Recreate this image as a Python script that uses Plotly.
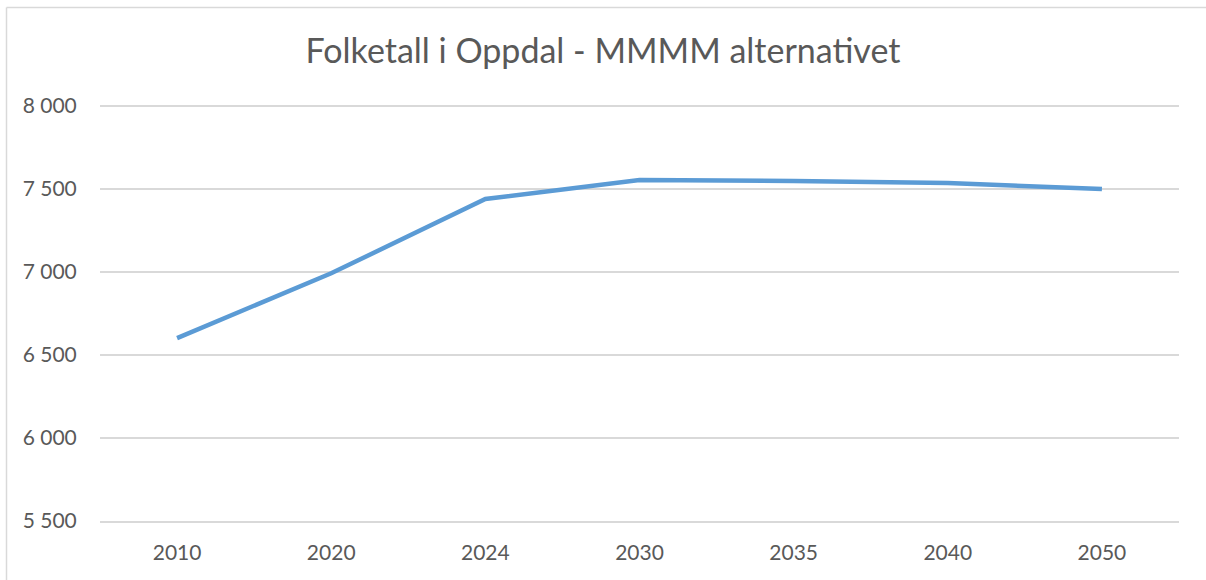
import plotly.graph_objects as go

years = ["2010", "2020", "2024", "2030", "2035", "2040", "2050"]
population = [6602, 6992, 7440, 7554, 7548, 7536, 7500]
y_ticks = [5500, 6000, 6500, 7000, 7500, 8000]
y_tick_labels = ["5 500", "6 000", "6 500", "7 000", "7 500", "8 000"]
title_text = "Folketall i Oppdal - MMMM alternativet"

W, H = 1206, 580
L, R, T, B = 100, 27, 104, 59
pw, ph = W - L - R, H - T - B

fig = go.Figure()
fig.add_trace(go.Scatter(
    x=years, y=population, mode="lines",
    line=dict(color="#5B9BD5", width=4.5),
    hoverinfo="x+y", showlegend=False,
))

border_color = "#d9d9d9"
# frame (left and top edges visible)
fig.add_shape(type="line", xref="paper", yref="paper",
              x0=(6.5 - L) / pw, x1=(6.5 - L) / pw,
              y0=(H - B - 7.5) / ph, y1=-0.3,
              line=dict(color=border_color, width=1.5))
fig.add_shape(type="line", xref="paper", yref="paper",
              x0=(6.5 - L) / pw, x1=1.2,
              y0=(H - B - 7.5) / ph, y1=(H - B - 7.5) / ph,
              line=dict(color=border_color, width=1.5))

fig.update_layout(
    width=W, height=H,
    margin=dict(l=L, r=R, t=T, b=B, pad=0, autoexpand=False),
    paper_bgcolor="white", plot_bgcolor="white",
    font=dict(family="Lato, Open Sans, sans-serif", color="#595959"),
    title=dict(text=title_text, x=0.5, xref="container", xanchor="center",
               y=1 - 51 / H, yref="container", yanchor="middle", automargin=False,
               font=dict(size=34, color="#595959", family="Lato, Open Sans, sans-serif")),
    xaxis=dict(
        type="category", range=[-0.5, len(years) - 0.5], automargin=False,
        showgrid=False, showline=True, linecolor=border_color, linewidth=2,
        ticks="outside", ticklen=12, tickcolor="rgba(0,0,0,0)",
        tickfont=dict(size=21, color="#595959"), fixedrange=True,
    ),
    yaxis=dict(
        range=[5500, 8012], tickmode="array", tickvals=y_ticks, ticktext=y_tick_labels,
        automargin=False,
        showgrid=True, gridcolor=border_color, gridwidth=2, zeroline=False, showline=False,
        ticks="outside", ticklen=18, tickcolor="rgba(0,0,0,0)",
        tickfont=dict(size=21, color="#595959"), fixedrange=True,
    ),
)

fig.write_html("out.html", config={"displayModeBar": False},
               post_script="document.body.style.margin='0';")
